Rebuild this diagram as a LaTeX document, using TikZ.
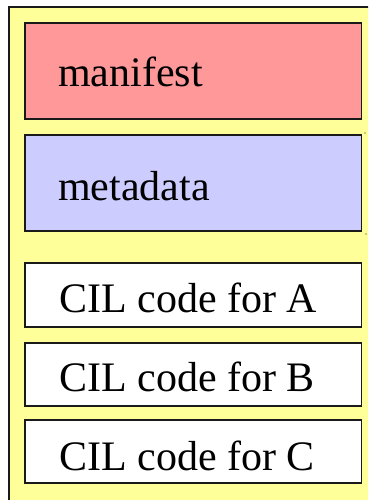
\documentclass[tikz,border=0pt]{standalone}
\usepackage{fontspec}
\setmainfont{Liberation Serif}
\definecolor{outerY}{HTML}{FFFF99}
\definecolor{manPink}{HTML}{FF9999}
\definecolor{metaBlue}{HTML}{CCCCFF}
\definecolor{edgeC}{HTML}{1A1A1A}
\tikzset{
  x=1pt, y=1pt,
  partbox/.style={draw=edgeC, line width=1.3pt},
  lbl/.style={anchor=base west, inner sep=0pt, font=\fontsize{42}{46}\selectfont},
}
\begin{document}
\begin{tikzpicture}
\useasboundingbox (0,0) rectangle (368,-500);
\clip (0,0) rectangle (368,-500);
% cropped text above
\node[lbl] (gtop) at (80,9.5) {g};
% outer assembly box
\draw[fill=outerY, draw=edgeC, line width=1.5pt] (9,-7) rectangle (380,-515);
% parts
\draw[partbox, fill=manPink] (25,-23) rectangle (361.5,-119);
\node[lbl] (man) at (58,-87) {manifest};
\draw[partbox, fill=metaBlue] (25,-135) rectangle (361.5,-231);
\node[lbl] (meta) at (58,-200) {metadata};
\fill[edgeC] (365,-133) circle (0.6);
\fill[edgeC] (366,-234) circle (0.6);
\draw[partbox, fill=white] (25,-263) rectangle (361.5,-327);
\node[lbl] (cilA) at (59,-312) {CIL code for A};
\draw[partbox, fill=white] (25,-343) rectangle (361.5,-406);
\node[lbl] (cilB) at (59,-391) {CIL code for B};
\draw[partbox, fill=white] (25,-420) rectangle (361.5,-483);
\node[lbl] (cilC) at (59,-470) {CIL code for C};
\end{tikzpicture}
\end{document}
